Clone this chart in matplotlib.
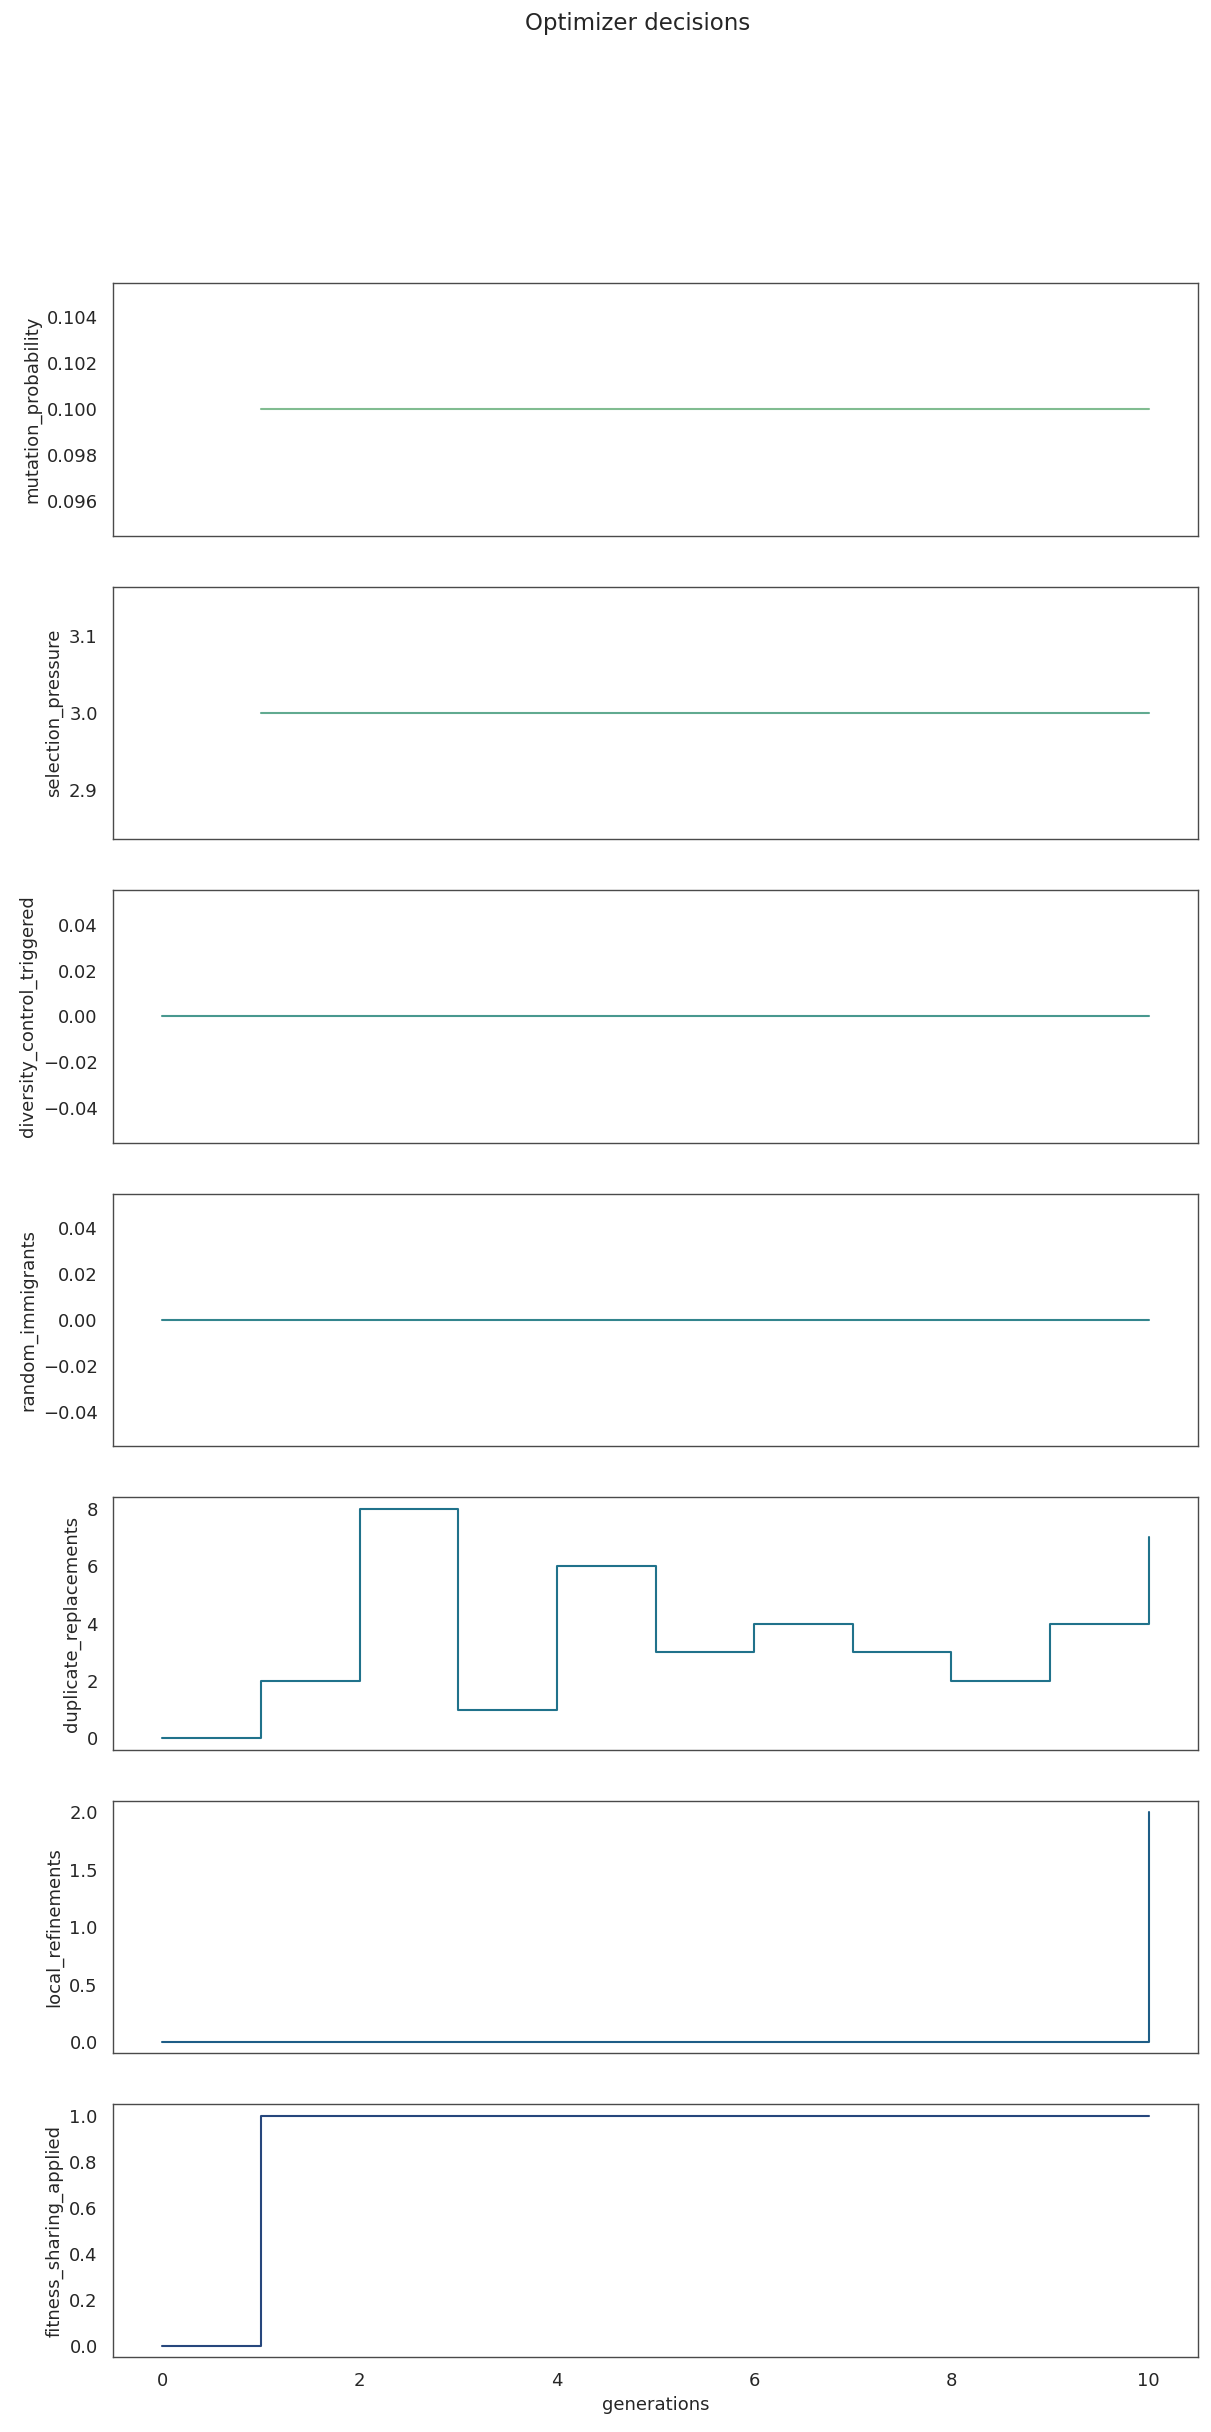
"""Optimizer decisions per generation, one step panel per decision."""

import numpy as np
import matplotlib
matplotlib.use('Agg')
import matplotlib.pyplot as plt
from matplotlib.ticker import MaxNLocator
import seaborn as sns

generations = list(range(11))

mutation_probability = [np.nan, 0.1, 0.1, 0.1, 0.1, 0.1, 0.1, 0.1, 0.1, 0.1, 0.1]
selection_pressure = [np.nan, 3.0, 3.0, 3.0, 3.0, 3.0, 3.0, 3.0, 3.0, 3.0, 3.0]
diversity_control_triggered = [0, 0, 0, 0, 0, 0, 0, 0, 0, 0, 0]
random_immigrants = [0, 0, 0, 0, 0, 0, 0, 0, 0, 0, 0]
duplicate_replacements = [0, 2, 8, 1, 6, 3, 4, 3, 2, 4, 7]
local_refinements = [0, 0, 0, 0, 0, 0, 0, 0, 0, 0, 2]
fitness_sharing_applied = [0, 1, 1, 1, 1, 1, 1, 1, 1, 1, 1]

panels = [
    ('mutation_probability', mutation_probability),
    ('selection_pressure', selection_pressure),
    ('diversity_control_triggered', diversity_control_triggered),
    ('random_immigrants', random_immigrants),
    ('duplicate_replacements', duplicate_replacements),
    ('local_refinements', local_refinements),
    ('fitness_sharing_applied', fitness_sharing_applied),
]

sns.set_theme(style='white')
plt.rcParams['font.family'] = ['DejaVu Sans']
plt.rcParams.update({
    'axes.edgecolor': '#4a4a4a',
    'axes.linewidth': 1.0,
    'xtick.labelsize': 13,
    'ytick.labelsize': 13,
    'axes.labelsize': 13,
    'xtick.major.size': 0,
    'ytick.major.size': 0,
    'xtick.major.pad': 11,
    'ytick.major.pad': 11,
    'text.color': '.15',
    'xtick.color': '.15',
    'ytick.color': '.15',
    'axes.labelcolor': '.15',
})

W, H = 1211, 2432
colors = sns.color_palette('crest', len(panels))

fig, axes = plt.subplots(len(panels), 1, figsize=(W / 100, H / 100), dpi=100, sharex=True)
fig.subplots_adjust(left=113 / W, right=1198 / W, top=1 - 283 / H, bottom=1 - 2357 / H, hspace=0.2)

for ax, (name, values), color in zip(axes, panels, colors):
    ax.step(generations, values, where='post', color=color, linewidth=1.5)
    ax.set_ylabel(name)
    ax.yaxis.set_major_locator(MaxNLocator(nbins=6, steps=[1, 2, 2.5, 5, 10]))
    ax.tick_params(axis='x', labelbottom=False)

axes[-1].tick_params(axis='x', labelbottom=True)
axes[-1].set_xlabel('generations')
fig.suptitle('Optimizer decisions', x=638 / W, y=1 - 12 / H, va='top', fontsize=16.5)

fig.savefig('out.png', dpi=100)
